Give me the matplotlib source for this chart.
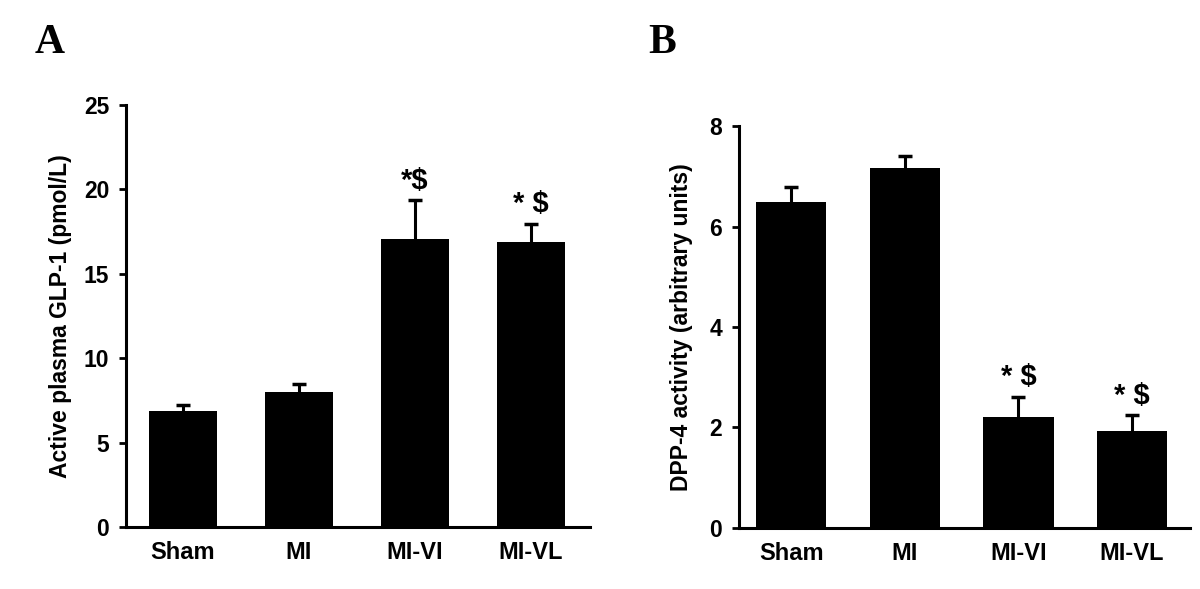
import numpy as np
import matplotlib
matplotlib.use('Agg')
import matplotlib.pyplot as plt

plt.rcParams['font.family'] = ['Liberation Sans', 'DejaVu Sans']
plt.rcParams['font.weight'] = 'bold'

groups = ['Sham', 'MI', 'MI-VI', 'MI-VL']

glp1_mean = [6.9, 8.0, 17.05, 16.9]
glp1_sem = [0.35, 0.45, 2.3, 1.05]
glp1_marks = ['', '', '*$', '* $']

dpp4_mean = [6.48, 7.17, 2.21, 1.94]
dpp4_sem = [0.3, 0.23, 0.4, 0.3]
dpp4_marks = ['', '', '* $', '* $']

fig = plt.figure(figsize=(12, 5.89), dpi=100)
axA = fig.add_axes([0.105, 0.1053, 0.3867, 0.7164])
axB = fig.add_axes([0.6158, 0.1036, 0.3759, 0.6824])


def draw(ax, mean, sem, marks, width, ylim, yticks, ylabel, xleft, labx):
    x = np.arange(len(groups))
    ax.bar(x, mean, width=width, color='black', zorder=2)
    eb = ax.errorbar(x, mean, yerr=[np.zeros(len(sem)), sem], fmt='none',
                     ecolor='black', elinewidth=2.2, capsize=5, capthick=2.5, zorder=3)
    eb[1][0].set_visible(False)  # only the upper cap
    for xi, m, s, t in zip(x, mean, sem, marks):
        if t:
            ax.annotate(t, (xi, m + s), xytext=(0, 4), textcoords='offset points',
                        ha='center', va='bottom', fontsize=21, fontweight='bold')
    ax.set_xlim(xleft, 3.51)
    ax.set_ylim(*ylim)
    ax.set_yticks(yticks)
    ax.set_xticks(x)
    ax.set_xticklabels(groups, fontsize=17, fontweight='bold')
    ax.tick_params(axis='x', length=0, pad=10)
    ax.tick_params(axis='y', length=5, width=2, pad=7, labelsize=16.5)
    for lab in ax.get_yticklabels():
        lab.set_fontweight('bold')
    ax.spines['top'].set_visible(False)
    ax.spines['right'].set_visible(False)
    ax.spines['left'].set_linewidth(2.2)
    ax.spines['bottom'].set_linewidth(2.2)
    ax.set_ylabel(ylabel, fontsize=16.5, fontweight='bold')
    ax.yaxis.set_label_coords(labx, 0.5)


draw(axA, glp1_mean, glp1_sem, glp1_marks, 0.59, (0, 25), [0, 5, 10, 15, 20, 25],
     'Active plasma GLP-1 (pmol/L)', -0.49, -0.116)
draw(axB, dpp4_mean, dpp4_sem, dpp4_marks, 0.62, (0, 8), [0, 2, 4, 6, 8],
     'DPP-4 activity (arbitrary units)', -0.46, -0.102)

fig.text(0.029, 0.91, 'A', fontsize=30, fontweight='bold', family='Liberation Serif', va='baseline')
fig.text(0.54, 0.91, 'B', fontsize=30, fontweight='bold', family='Liberation Serif', va='baseline')

fig.savefig('out.png', dpi=100)
